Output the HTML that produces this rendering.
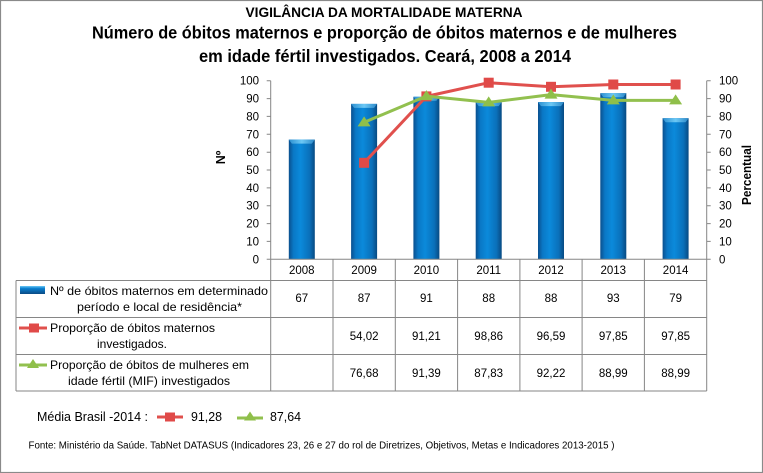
<!DOCTYPE html>
<html>
<head>
<meta charset="utf-8">
<style>
html,body{margin:0;padding:0;background:#fff;}
svg{display:block;}
text{font-family:"Liberation Sans",sans-serif;fill:#000;}
</style>
</head>
<body>
<svg width="763" height="473" viewBox="0 0 763 473" xmlns="http://www.w3.org/2000/svg">
<defs>
<linearGradient id="bar" x1="0" y1="0" x2="1" y2="0">
<stop offset="0" stop-color="#0a4f8e"/>
<stop offset="0.18" stop-color="#0a78c6"/>
<stop offset="0.45" stop-color="#0b8adb"/>
<stop offset="0.8" stop-color="#0a70ba"/>
<stop offset="1" stop-color="#084a82"/>
</linearGradient>
<linearGradient id="cap" x1="0" y1="0" x2="1" y2="0">
<stop offset="0" stop-color="#2b8fd0"/>
<stop offset="0.5" stop-color="#6cc8f5"/>
<stop offset="1" stop-color="#2b88c8"/>
</linearGradient>
<linearGradient id="sw" x1="0" y1="0" x2="0" y2="1">
<stop offset="0" stop-color="#6cc8f5"/>
<stop offset="0.3" stop-color="#0a80d0"/>
<stop offset="1" stop-color="#0a4a84"/>
</linearGradient>
</defs>
<rect x="0.5" y="0.5" width="762" height="472" fill="#fff" stroke="#8a8a8a" stroke-width="1.2"/>

<!-- titles -->
<text x="384" y="17" text-anchor="middle" font-size="13.5" font-weight="bold" textLength="277" lengthAdjust="spacingAndGlyphs">VIGILÂNCIA DA MORTALIDADE MATERNA</text>
<text x="92" y="38.5" font-size="17.5" font-weight="bold" textLength="585" lengthAdjust="spacingAndGlyphs">Número de óbitos maternos e proporção de óbitos maternos e de mulheres</text>
<text x="199" y="62" font-size="17.5" font-weight="bold" textLength="372" lengthAdjust="spacingAndGlyphs">em idade fértil investigados. Ceará, 2008 a 2014</text>

<!-- bars -->
<g>
<rect x="288.8" y="139.6" width="26" height="119.7" fill="url(#bar)"/>
<rect x="351.1" y="103.9" width="26" height="155.4" fill="url(#bar)"/>
<rect x="413.4" y="96.8" width="26" height="162.5" fill="url(#bar)"/>
<rect x="475.7" y="102.1" width="26" height="157.2" fill="url(#bar)"/>
<rect x="538.0" y="102.1" width="26" height="157.2" fill="url(#bar)"/>
<rect x="600.3" y="93.2" width="26" height="166.1" fill="url(#bar)"/>
<rect x="662.6" y="118.2" width="26" height="141.1" fill="url(#bar)"/>
</g>
<g fill="url(#cap)">
<path d="M288.8 139.6 h26 l-3 4 h-20 z"/>
<path d="M351.1 103.9 h26 l-3 4 h-20 z"/>
<path d="M413.4 96.8 h26 l-3 4 h-20 z"/>
<path d="M475.7 102.1 h26 l-3 4 h-20 z"/>
<path d="M538.0 102.1 h26 l-3 4 h-20 z"/>
<path d="M600.3 93.2 h26 l-3 4 h-20 z"/>
<path d="M662.6 118.2 h26 l-3 4 h-20 z"/>
</g>

<!-- axes -->
<g stroke="#868686" stroke-width="1" fill="none">
<line x1="270.7" y1="80.7" x2="270.7" y2="391"/>
<line x1="706.7" y1="80.7" x2="706.7" y2="391"/>
<line x1="266.7" y1="259.3" x2="706.7" y2="259.3"/>
<!-- left ticks -->
<path d="M266.7 80.7h4M266.7 98.6h4M266.7 116.4h4M266.7 134.3h4M266.7 152.2h4M266.7 170h4M266.7 187.9h4M266.7 205.7h4M266.7 223.6h4M266.7 241.4h4"/>
<!-- right ticks -->
<path d="M706.7 80.7h4M706.7 98.6h4M706.7 116.4h4M706.7 134.3h4M706.7 152.2h4M706.7 170h4M706.7 187.9h4M706.7 205.7h4M706.7 223.6h4M706.7 241.4h4M706.7 259.3h4"/>
<!-- table -->
<line x1="16" y1="280.5" x2="706.7" y2="280.5"/>
<line x1="16" y1="317.5" x2="706.7" y2="317.5"/>
<line x1="16" y1="354.5" x2="706.7" y2="354.5"/>
<line x1="16" y1="391" x2="706.7" y2="391"/>
<line x1="16" y1="280.5" x2="16" y2="391"/>
<line x1="333" y1="259.3" x2="333" y2="391"/>
<line x1="395.3" y1="259.3" x2="395.3" y2="391"/>
<line x1="457.6" y1="259.3" x2="457.6" y2="391"/>
<line x1="519.9" y1="259.3" x2="519.9" y2="391"/>
<line x1="582.1" y1="259.3" x2="582.1" y2="391"/>
<line x1="644.4" y1="259.3" x2="644.4" y2="391"/>
</g>

<!-- left axis labels -->
<g font-size="11.5" text-anchor="end">
<text x="259" y="84.7">100</text>
<text x="259" y="102.6">90</text>
<text x="259" y="120.4">80</text>
<text x="259" y="138.3">70</text>
<text x="259" y="156.2">60</text>
<text x="259" y="174">50</text>
<text x="259" y="191.9">40</text>
<text x="259" y="209.7">30</text>
<text x="259" y="227.6">20</text>
<text x="259" y="245.4">10</text>
<text x="259" y="263.3">0</text>
</g>
<g font-size="11.5">
<text x="719" y="84.7">100</text>
<text x="719" y="102.6">90</text>
<text x="719" y="120.4">80</text>
<text x="719" y="138.3">70</text>
<text x="719" y="156.2">60</text>
<text x="719" y="174">50</text>
<text x="719" y="191.9">40</text>
<text x="719" y="209.7">30</text>
<text x="719" y="227.6">20</text>
<text x="719" y="245.4">10</text>
<text x="719" y="263.3">0</text>
</g>
<text transform="translate(225,157.5) rotate(-90)" text-anchor="middle" font-size="12.5" font-weight="bold">Nº</text>
<text transform="translate(751,175) rotate(-90)" text-anchor="middle" font-size="12.5" font-weight="bold" textLength="60" lengthAdjust="spacingAndGlyphs">Percentual</text>

<!-- red line -->
<polyline points="364.1,162.8 426.4,96.4 488.7,82.7 551.0,86.8 613.3,84.5 675.6,84.5" fill="none" stroke="#e0504d" stroke-width="3" stroke-linejoin="round"/>
<g fill="#e04a48">
<rect x="359.1" y="157.8" width="10" height="10"/>
<rect x="421.4" y="91.4" width="10" height="10"/>
<rect x="483.7" y="77.7" width="10" height="10"/>
<rect x="546.0" y="81.8" width="10" height="10"/>
<rect x="608.3" y="79.5" width="10" height="10"/>
<rect x="670.6" y="79.5" width="10" height="10"/>
</g>
<!-- green line -->
<polyline points="364.1,122.35 426.4,96.1 488.7,102.4 551.0,94.6 613.3,100.4 675.6,100.4" fill="none" stroke="#92c04f" stroke-width="3" stroke-linejoin="round"/>
<g fill="#8fbf4a">
<path d="M364.1 116.4 l6.5 10 h-13 z"/>
<path d="M426.4 90.1 l6.5 10 h-13 z"/>
<path d="M488.7 96.4 l6.5 10 h-13 z"/>
<path d="M551.0 88.6 l6.5 10 h-13 z"/>
<path d="M613.3 94.4 l6.5 10 h-13 z"/>
<path d="M675.6 94.4 l6.5 10 h-13 z"/>
</g>

<!-- table header years -->
<g font-size="11.5" text-anchor="middle">
<text x="301.8" y="274">2008</text>
<text x="364.1" y="274">2009</text>
<text x="426.4" y="274">2010</text>
<text x="488.7" y="274">2011</text>
<text x="551.0" y="274">2012</text>
<text x="613.3" y="274">2013</text>
<text x="675.6" y="274">2014</text>
</g>

<!-- legend rows -->
<rect x="20" y="286" width="25" height="8" fill="url(#sw)"/>
<text x="50" y="295" font-size="12" textLength="218" lengthAdjust="spacingAndGlyphs">Nº  de óbitos maternos em determinado</text>
<text x="77" y="311" font-size="12" textLength="165" lengthAdjust="spacingAndGlyphs">período e local de residência*</text>

<line x1="19" y1="328" x2="47" y2="328" stroke="#e0504d" stroke-width="3"/>
<rect x="29" y="323.5" width="10" height="9" fill="#e04a48"/>
<text x="50" y="332" font-size="12" textLength="165" lengthAdjust="spacingAndGlyphs">Proporção de óbitos maternos</text>
<text x="97" y="348" font-size="12" textLength="70" lengthAdjust="spacingAndGlyphs">investigados.</text>

<line x1="19" y1="365" x2="47" y2="365" stroke="#92c04f" stroke-width="3"/>
<path d="M33 359 l6 9 h-12 z" fill="#8fbf4a"/>
<text x="50" y="369" font-size="12" textLength="199" lengthAdjust="spacingAndGlyphs">Proporção de óbitos de mulheres em</text>
<text x="68" y="385" font-size="12" textLength="162" lengthAdjust="spacingAndGlyphs">idade fértil (MIF) investigados</text>

<g font-size="11.5" text-anchor="middle">
<text x="301.8" y="302">67</text>
<text x="364.1" y="302">87</text>
<text x="426.4" y="302">91</text>
<text x="488.7" y="302">88</text>
<text x="551.0" y="302">88</text>
<text x="613.3" y="302">93</text>
<text x="675.6" y="302">79</text>

<text x="364.1" y="340">54,02</text>
<text x="426.4" y="340">91,21</text>
<text x="488.7" y="340">98,86</text>
<text x="551.0" y="340">96,59</text>
<text x="613.3" y="340">97,85</text>
<text x="675.6" y="340">97,85</text>

<text x="364.1" y="377">76,68</text>
<text x="426.4" y="377">91,39</text>
<text x="488.7" y="377">87,83</text>
<text x="551.0" y="377">92,22</text>
<text x="613.3" y="377">88,99</text>
<text x="675.6" y="377">88,99</text>
</g>

<!-- média brasil -->
<text x="37" y="421" font-size="12.5" textLength="111" lengthAdjust="spacingAndGlyphs">Média Brasil -2014 :</text>
<line x1="157" y1="417" x2="183" y2="417" stroke="#e0504d" stroke-width="3"/>
<rect x="165" y="412.5" width="10" height="9" fill="#e04a48"/>
<text x="191" y="421" font-size="12.5" textLength="31" lengthAdjust="spacingAndGlyphs">91,28</text>
<line x1="237" y1="418" x2="263" y2="418" stroke="#92c04f" stroke-width="3"/>
<path d="M250 411.5 l6 9 h-12 z" fill="#8fbf4a"/>
<text x="270" y="421" font-size="12.5" textLength="31" lengthAdjust="spacingAndGlyphs">87,64</text>

<text x="28.5" y="448.5" font-size="10" textLength="586" lengthAdjust="spacingAndGlyphs">Fonte: Ministério da Saúde. TabNet DATASUS (Indicadores 23, 26 e 27  do rol de Diretrizes, Objetivos, Metas e Indicadores 2013-2015 )</text>
</svg>
</body>
</html>
